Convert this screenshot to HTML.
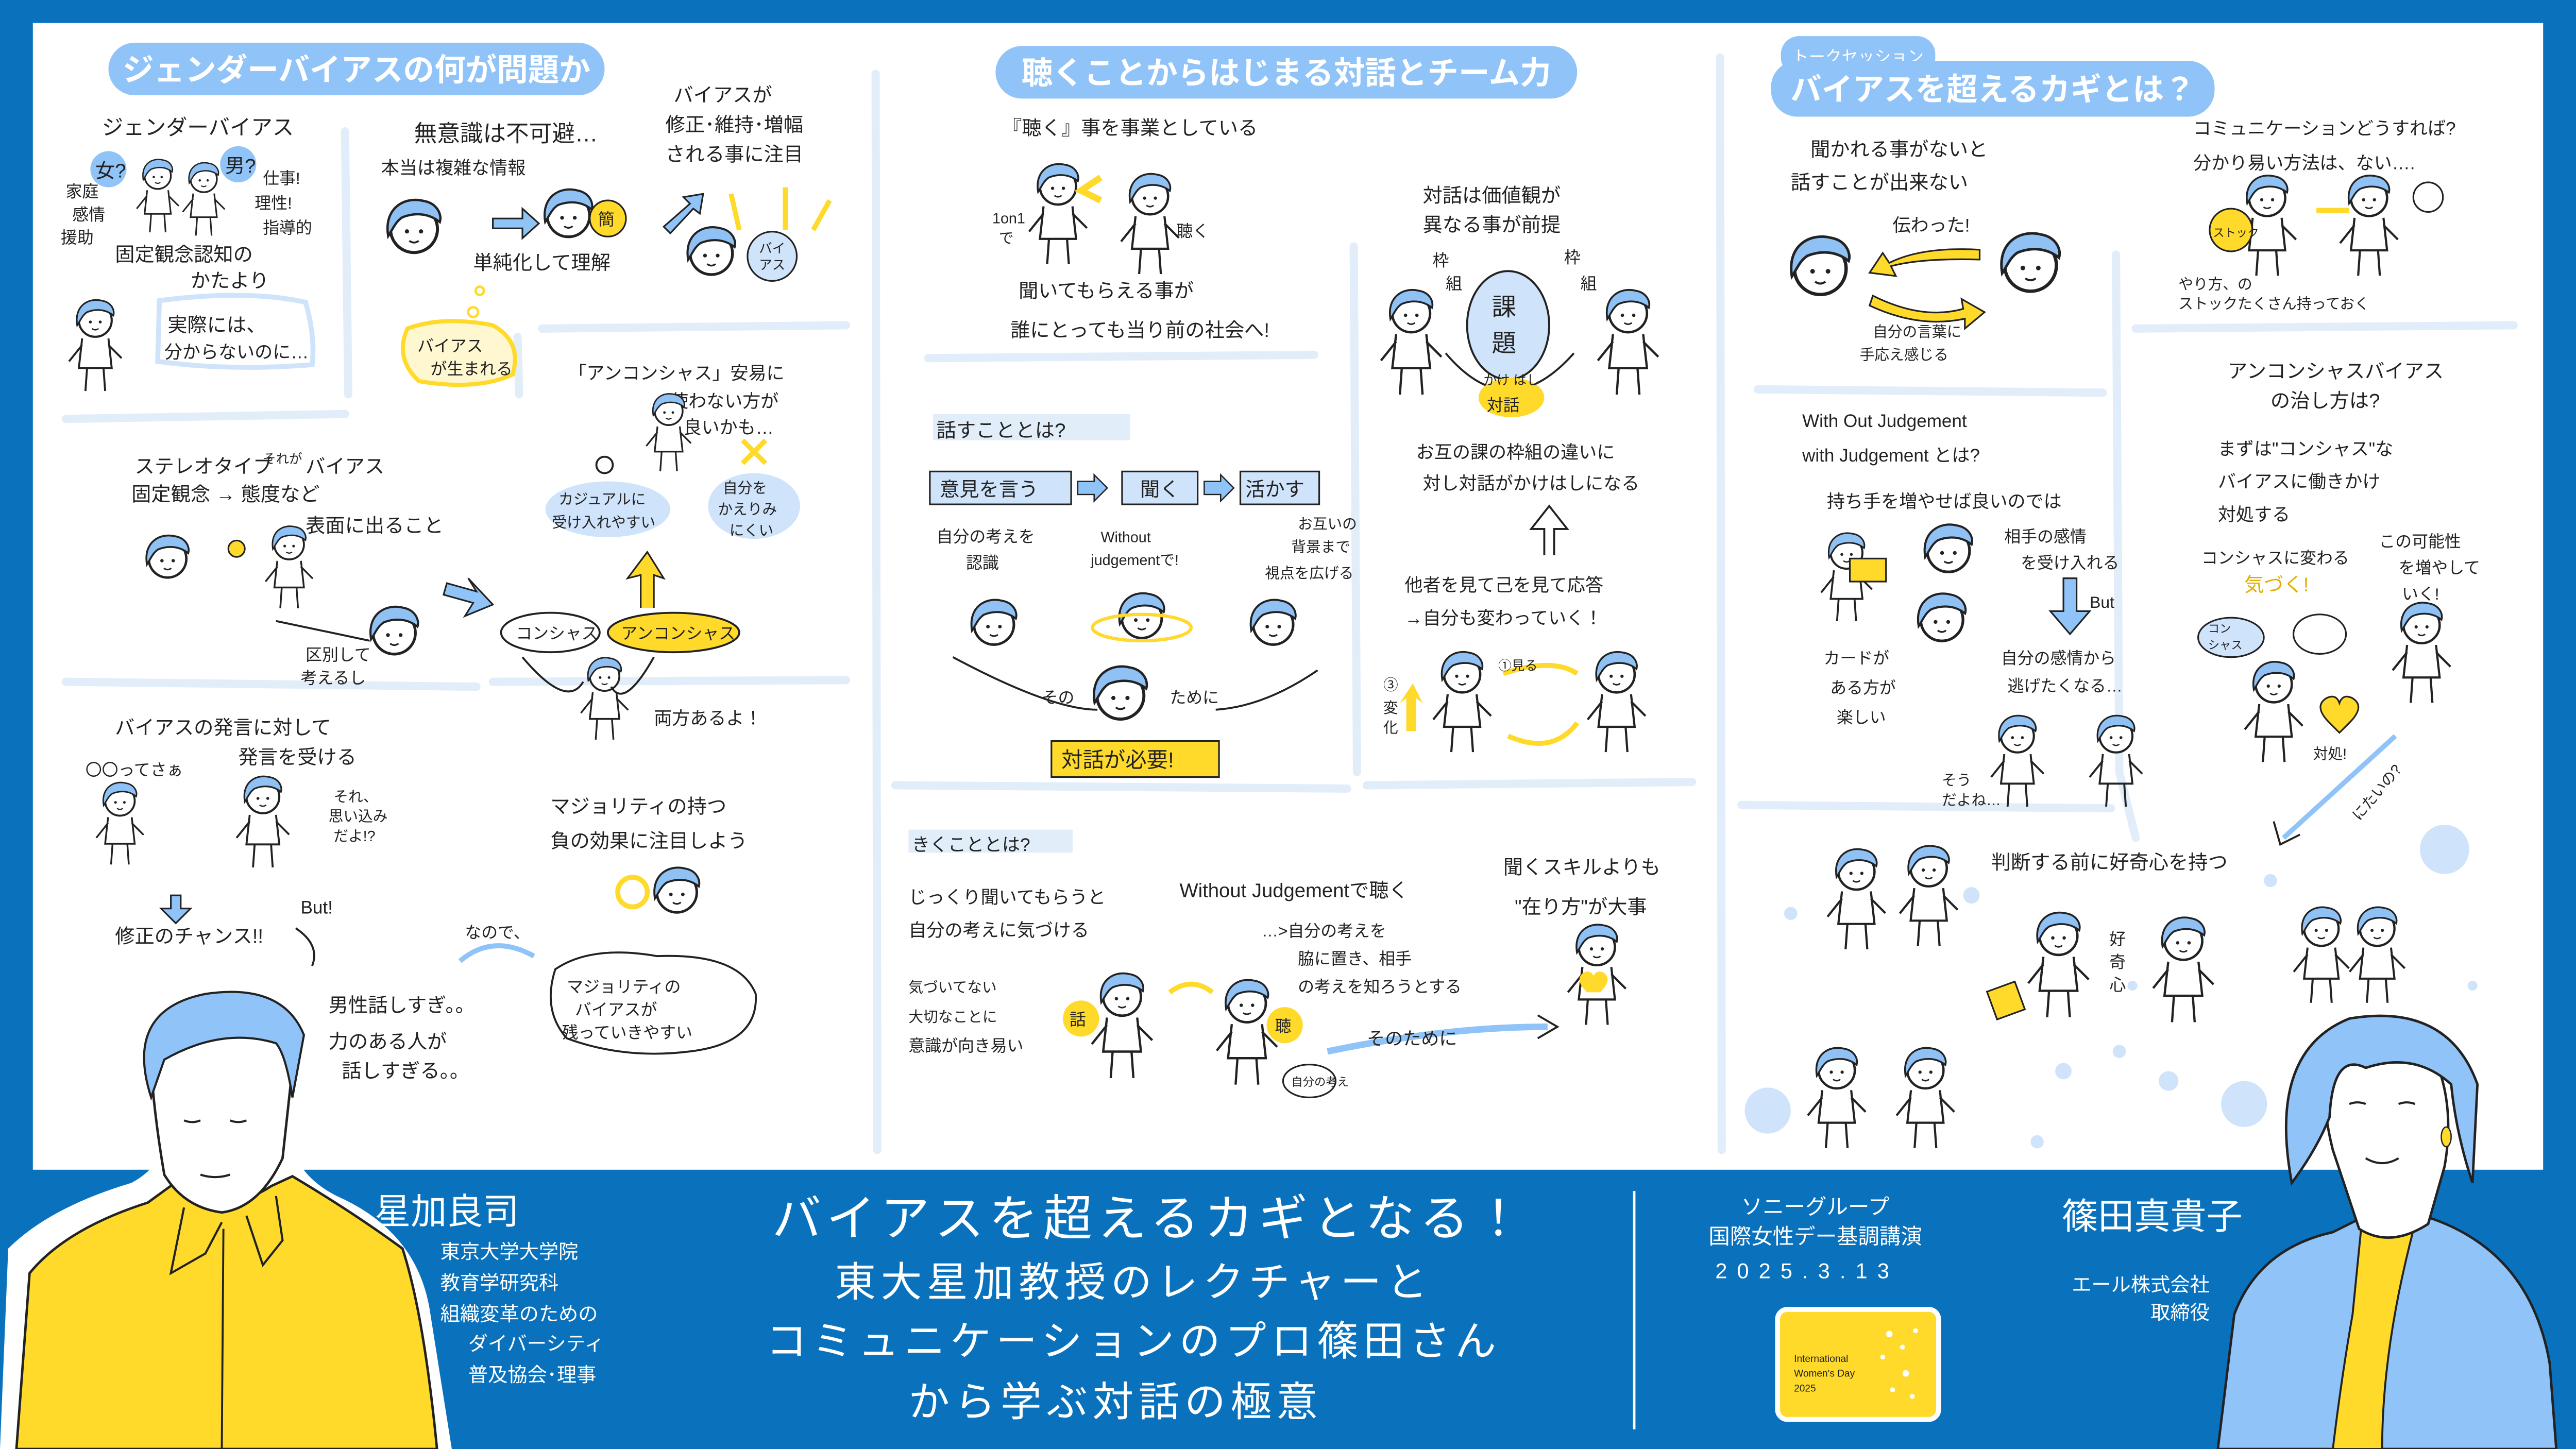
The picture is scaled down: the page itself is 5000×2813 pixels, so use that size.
<!DOCTYPE html>
<html><head><meta charset="utf-8">
<style>
html,body{margin:0;padding:0;background:#0a72bd;}
svg{display:block;}
text{font-family:"Liberation Sans","Noto Sans CJK JP",sans-serif;fill:#222;}
.w{fill:#fff;}
</style></head>
<body>
<svg width="5000" height="2813" viewBox="0 0 1568 882" preserveAspectRatio="none" xmlns="http://www.w3.org/2000/svg">
<defs>
<symbol id="h" viewBox="-14 -14 28 28">
<circle cx="0" cy="1" r="10" fill="#fff" stroke="#222" stroke-width="1.3"/>
<path d="M-11,4 C-13,-8 -4,-13 4,-11 C10,-10 12,-5 11,-2 C6,-6 0,-6 -5,-4 C-8,-2 -9,1 -11,4Z" fill="#8fc1f5" stroke="#222" stroke-width="1"/>
<circle cx="-3" cy="2" r="0.9" fill="#222"/><circle cx="3" cy="2" r="0.9" fill="#222"/>
<path d="M-2,6 Q0,7.5 2,6" fill="none" stroke="#222" stroke-width="0.8"/>
</symbol>
<symbol id="p" viewBox="-20 -14 40 60">
<use href="#h" x="-14" y="-14" width="28" height="28"/>
<path d="M-8,12 L-10,30 L10,30 L8,12 M-5,30 L-6,44 M5,30 L6,44 M-8,16 L-16,26 M8,16 L16,24" fill="none" stroke="#222" stroke-width="1.2"/>
</symbol>
</defs>

<rect x="0" y="0" width="1568" height="882" fill="#0a72bd"/>
<rect x="20" y="14" width="1528" height="698" fill="#fff"/>

<g stroke="#e2edfa" stroke-width="5" stroke-linecap="round" fill="none">
<path d="M210,80 L212,240"/>
<path d="M533,45 L534,700"/>
<path d="M1047,35 L1048,700"/>
<path d="M824,150 L826,470"/>
<path d="M1288,155 L1290,470"/>
<path d="M330,200 L515,198"/>
<path d="M315,205 L316,240"/>
<path d="M40,255 L210,252"/>
<path d="M40,415 L290,418"/>
<path d="M300,415 L515,414"/>
<path d="M565,218 L800,216"/>
<path d="M545,478 L820,480"/>
<path d="M832,478 L1030,476"/>
<path d="M1070,237 L1280,239"/>
<path d="M1300,200 L1530,198"/>
<path d="M1290,470 L1300,510"/>
<path d="M1060,490 L1285,492"/>
</g>

<rect x="66" y="26" width="302" height="32" rx="16" fill="#90c3f7"/>
<text x="217" y="49" font-size="19" class="w" text-anchor="middle" font-weight="bold">ジェンダーバイアスの何が問題か</text>
<rect x="606" y="28" width="354" height="32" rx="16" fill="#90c3f7"/>
<text x="783" y="51" font-size="19" class="w" text-anchor="middle" font-weight="bold">聴くことからはじまる対話とチーム力</text>
<rect x="1084" y="22" width="94" height="24" rx="11" fill="#90c3f7"/>
<text x="1131" y="38" font-size="10" class="w" text-anchor="middle">トークセッション</text>
<rect x="1078" y="37" width="270" height="34" rx="16" fill="#90c3f7"/>
<text x="1213" y="61" font-size="19" class="w" text-anchor="middle" font-weight="bold">バイアスを超えるカギとは？</text>

<g font-size="12">
<text x="62" y="82" font-size="13">ジェンダーバイアス</text>
<circle cx="66" cy="103" r="11" fill="#90c3f7"/><text x="58" y="108">女?</text>
<circle cx="145" cy="100" r="11" fill="#90c3f7"/><text x="137" y="105">男?</text>
<text x="40" y="120" font-size="10">家庭</text><text x="44" y="134" font-size="10">感情</text><text x="37" y="148" font-size="10">援助</text>
<text x="160" y="112" font-size="10">仕事!</text><text x="155" y="127" font-size="10">理性!</text><text x="160" y="142" font-size="10">指導的</text>
<use href="#p" x="80" y="95" width="32" height="48"/>
<use href="#p" x="108" y="97" width="32" height="48"/>
<text x="70" y="159">固定観念認知の</text>
<text x="116" y="175">かたより</text>
<use href="#p" x="38" y="180" width="40" height="60"/>
<path d="M97,183 Q150,176 186,184 Q192,205 190,222 Q140,226 96,220Z" fill="none" stroke="#cfe3fb" stroke-width="3"/>
<text x="102" y="202">実際には、</text>
<text x="100" y="218" font-size="11">分からないのに…</text>

<text x="252" y="86" font-size="14">無意識は不可避…</text>
<text x="232" y="106" font-size="11">本当は複雑な情報</text>
<use href="#h" x="232" y="118" width="40" height="40"/>
<path d="M300,133 L318,133 L318,127 L328,136 L318,145 L318,139 L300,139Z" fill="#90c3f7" stroke="#222" stroke-width="1"/>
<use href="#h" x="328" y="112" width="36" height="36"/>
<circle cx="370" cy="133" r="11" fill="#ffda2a" stroke="#222" stroke-width="1"/><text x="364" y="137" font-size="10">簡</text>
<text x="288" y="164" font-size="12">単純化して理解</text>
<text x="410" y="62" font-size="12">バイアスが</text>
<text x="405" y="80" font-size="12">修正･維持･増幅</text>
<text x="405" y="98" font-size="12">される事に注目</text>
<path d="M404,138 L420,124 L416,120 L428,118 L426,130 L422,127 L408,142Z" fill="#90c3f7" stroke="#222" stroke-width="1"/>
<g stroke="#ffda2a" stroke-width="3"><path d="M450,140 L445,118"/><path d="M478,140 L478,114"/><path d="M495,140 L505,122"/></g>
<use href="#h" x="415" y="135" width="36" height="36"/>
<circle cx="470" cy="156" r="15" fill="#cfe3fb" stroke="#222" stroke-width="1"/>
<text x="462" y="154" font-size="8">バイ</text><text x="462" y="164" font-size="8">アス</text>
<circle cx="292" cy="177" r="2.5" fill="none" stroke="#ffda2a" stroke-width="1.5"/>
<circle cx="288" cy="190" r="3" fill="none" stroke="#ffda2a" stroke-width="1.5"/>
<circle cx="282" cy="205" r="3" fill="none" stroke="#ffda2a" stroke-width="1.5"/>
<path d="M248,200 Q270,192 300,198 Q318,208 312,228 Q290,238 255,232 Q240,218 248,200Z" fill="#fff7cf" stroke="#ffda2a" stroke-width="2.5"/>
<text x="254" y="214" font-size="10">バイアス</text>
<text x="262" y="228" font-size="10">が生まれる</text>

<text x="346" y="231" font-size="11">「アンコンシャス」安易に</text>
<text x="408" y="248" font-size="11">使わない方が</text>
<text x="416" y="264" font-size="11">良いかも…</text>
<use href="#p" x="390" y="237" width="34" height="52"/>
<circle cx="368" cy="283" r="5" fill="none" stroke="#222" stroke-width="1.2"/>
<path d="M452,268 L466,282 M466,268 L452,282" stroke="#ffda2a" stroke-width="3"/>
<ellipse cx="459" cy="308" rx="28" ry="20" fill="#cfe3fb"/>
<text x="440" y="300" font-size="9">自分を</text><text x="437" y="313" font-size="9">かえりみ</text><text x="444" y="326" font-size="9">にくい</text>
<ellipse cx="370" cy="310" rx="38" ry="17" fill="#cfe3fb"/>
<text x="340" y="307" font-size="9">カジュアルに</text><text x="336" y="321" font-size="9">受け入れやすい</text>
<path d="M390,370 L390,350 L382,352 L394,336 L404,352 L398,350 L398,370" fill="#ffda2a" stroke="#222" stroke-width="1"/>

<text x="82" y="288" font-size="12">ステレオタイプ</text>
<text x="160" y="282" font-size="8">それが</text>
<text x="186" y="288" font-size="12">バイアス</text>
<text x="80" y="305" font-size="12">固定観念 → 態度など</text>
<text x="186" y="324" font-size="12">表面に出ること</text>
<use href="#h" x="86" y="323" width="32" height="32"/>
<circle cx="144" cy="334" r="5" fill="#ffda2a" stroke="#222" stroke-width="1"/>
<use href="#p" x="158" y="318" width="36" height="54"/>
<use href="#h" x="222" y="366" width="36" height="36"/>
<path d="M168,378 L225,390" stroke="#222" stroke-width="1.2"/>
<text x="186" y="402" font-size="10">区別して</text>
<text x="183" y="416" font-size="10">考えるし</text>
<path d="M272,355 L290,360 L285,352 L300,368 L283,375 L288,367 L270,362Z" fill="#90c3f7" stroke="#222" stroke-width="1"/>
<ellipse cx="335" cy="385" rx="30" ry="12" fill="#fff" stroke="#222" stroke-width="1.2"/>
<text x="314" y="389" font-size="10">コンシャス</text>
<ellipse cx="410" cy="385" rx="40" ry="12" fill="#ffda2a" stroke="#222" stroke-width="1.2"/>
<text x="378" y="389" font-size="10">アンコンシャス</text>
<use href="#p" x="350" y="398" width="36" height="54"/>
<path d="M318,400 Q345,432 355,415 M398,400 Q380,432 372,418" fill="none" stroke="#222" stroke-width="1.2"/>
<text x="398" y="441" font-size="11">両方あるよ！</text>

<text x="70" y="447" font-size="12">バイアスの発言に対して</text>
<text x="145" y="465" font-size="12">発言を受ける</text>
<text x="52" y="472" font-size="10">〇〇ってさぁ</text>
<use href="#p" x="55" y="474" width="36" height="54"/>
<use href="#p" x="140" y="470" width="40" height="60"/>
<text x="203" y="488" font-size="9">それ、</text><text x="200" y="500" font-size="9">思い込み</text><text x="203" y="512" font-size="9">だよ!?</text>
<path d="M104,545 L104,553 L98,553 L107,562 L116,553 L110,553 L110,545Z" fill="#90c3f7" stroke="#222" stroke-width="1"/>
<text x="70" y="574" font-size="12">修正のチャンス!!</text>
<text x="183" y="556" font-size="11">But!</text>
<path d="M180,565 Q195,575 190,588" fill="none" stroke="#222" stroke-width="1.2"/>
<text x="200" y="616" font-size="12">男性話しすぎ。。</text>
<text x="200" y="638" font-size="12">力のある人が</text>
<text x="208" y="656" font-size="12">話しすぎる。。</text>
<text x="283" y="571" font-size="10">なので、</text>
<path d="M280,585 Q300,568 325,582" fill="none" stroke="#90c3f7" stroke-width="3"/>
<text x="335" y="495" font-size="12">マジョリティの持つ</text>
<text x="335" y="516" font-size="12">負の効果に注目しよう</text>
<circle cx="385" cy="543" r="9" fill="#fff" stroke="#ffda2a" stroke-width="3"/>
<use href="#h" x="395" y="525" width="34" height="34"/>
<path d="M338,590 Q360,575 400,582 Q450,580 460,605 Q462,635 420,640 Q380,645 345,632 Q330,615 338,590Z" fill="#fff" stroke="#222" stroke-width="1.2"/>
<text x="345" y="604" font-size="10">マジョリティの</text>
<text x="350" y="618" font-size="10">バイアスが</text>
<text x="342" y="632" font-size="10">残っていきやすい</text>
</g>

<g font-size="12">
<text x="610" y="82" font-size="12">『聴く』事を事業としている</text>
<use href="#p" x="622" y="92" width="44" height="76"/>
<use href="#p" x="678" y="98" width="44" height="76"/>
<path d="M670,108 L658,116 L670,122" fill="none" stroke="#ffda2a" stroke-width="4"/>
<text x="604" y="136" font-size="9">1on1</text><text x="608" y="148" font-size="9">で</text>
<text x="716" y="144" font-size="10">聴く</text>
<text x="620" y="181" font-size="12">聞いてもらえる事が</text>
<text x="615" y="205" font-size="12">誰にとっても当り前の社会へ!</text>

<text x="866" y="123" font-size="12">対話は価値観が</text>
<text x="866" y="141" font-size="12">異なる事が前提</text>
<use href="#p" x="836" y="162" width="46" height="92"/>
<use href="#p" x="968" y="162" width="46" height="92"/>
<ellipse cx="918" cy="198" rx="25" ry="33" fill="#cfe3fb" stroke="#222" stroke-width="1.2"/>
<text x="908" y="192" font-size="15">課</text><text x="908" y="214" font-size="15">題</text>
<text x="872" y="162" font-size="10">枠</text><text x="880" y="176" font-size="10">組</text>
<text x="952" y="160" font-size="10">枠</text><text x="962" y="176" font-size="10">組</text>
<path d="M880,215 Q918,260 958,215" fill="none" stroke="#222" stroke-width="1.2"/>
<ellipse cx="920" cy="242" rx="20" ry="12" fill="#ffda2a"/>
<text x="903" y="234" font-size="8">かけ はし</text>
<text x="905" y="250" font-size="10">対話</text>
<text x="862" y="279" font-size="11">お互の課の枠組の違いに</text>
<text x="866" y="298" font-size="11">対し対話がかけはしになる</text>
<path d="M940,338 L940,322 L932,322 L943,308 L954,322 L946,322 L946,338" fill="#fff" stroke="#222" stroke-width="1.2"/>
<text x="855" y="360" font-size="11">他者を見て己を見て応答</text>
<text x="855" y="380" font-size="11">→自分も変わっていく！</text>
<use href="#p" x="868" y="392" width="44" height="70"/>
<use href="#p" x="962" y="392" width="44" height="70"/>
<path d="M915,410 Q945,400 960,410 M918,448 Q945,460 960,440" fill="none" stroke="#ffda2a" stroke-width="3"/>
<path d="M856,445 L856,425 L852,428 L860,416 L866,428 L862,425 L862,445" fill="#ffda2a"/>
<text x="842" y="420" font-size="9">③</text><text x="842" y="434" font-size="9">変</text><text x="842" y="446" font-size="9">化</text>
<text x="912" y="408" font-size="8">①見る</text>

<rect x="568" y="252" width="120" height="16" fill="#e2edfa"/>
<text x="570" y="266" font-size="12">話すこととは?</text>
<rect x="566" y="287" width="86" height="20" fill="#cfe3fb" stroke="#222" stroke-width="1"/>
<text x="572" y="302" font-size="12">意見を言う</text>
<path d="M656,293 L666,293 L666,289 L674,297 L666,305 L666,301 L656,301Z" fill="#90c3f7" stroke="#222" stroke-width="0.8"/>
<rect x="683" y="287" width="46" height="20" fill="#cfe3fb" stroke="#222" stroke-width="1"/>
<text x="694" y="302" font-size="12">聞く</text>
<path d="M733,293 L743,293 L743,289 L751,297 L743,305 L743,301 L733,301Z" fill="#90c3f7" stroke="#222" stroke-width="0.8"/>
<rect x="755" y="287" width="48" height="20" fill="#cfe3fb" stroke="#222" stroke-width="1"/>
<text x="758" y="302" font-size="12">活かす</text>
<text x="570" y="330" font-size="10">自分の考えを</text><text x="588" y="346" font-size="10">認識</text>
<text x="670" y="330" font-size="9">Without</text><text x="664" y="344" font-size="9">judgementで!</text>
<text x="790" y="322" font-size="9">お互いの</text><text x="786" y="336" font-size="9">背景まで</text><text x="770" y="352" font-size="9">視点を広げる</text>
<use href="#h" x="588" y="362" width="34" height="34"/>
<use href="#h" x="678" y="358" width="34" height="34"/>
<ellipse cx="695" cy="382" rx="30" ry="8" fill="none" stroke="#ffda2a" stroke-width="2"/>
<use href="#h" x="758" y="362" width="34" height="34"/>
<use href="#h" x="662" y="402" width="40" height="40"/>
<path d="M580,400 Q640,432 668,432 M740,432 Q770,430 802,408" fill="none" stroke="#222" stroke-width="1.2"/>
<text x="634" y="428" font-size="10">その</text><text x="712" y="428" font-size="10">ために</text>
<rect x="640" y="451" width="102" height="22" fill="#ffda2a" stroke="#222" stroke-width="1"/>
<text x="646" y="467" font-size="13">対話が必要!</text>

<rect x="553" y="505" width="100" height="14" fill="#e2edfa"/>
<text x="555" y="518" font-size="11">きくこととは?</text>
<text x="553" y="550" font-size="11">じっくり聞いてもらうと</text>
<text x="553" y="570" font-size="11">自分の考えに気づける</text>
<text x="553" y="604" font-size="9">気づいてない</text>
<text x="553" y="622" font-size="9">大切なことに</text>
<text x="553" y="640" font-size="10">意識が向き易い</text>
<text x="718" y="546" font-size="12">Without Judgementで聴く</text>
<text x="768" y="570" font-size="10">…>自分の考えを</text>
<text x="790" y="587" font-size="10">脇に置き、相手</text>
<text x="790" y="604" font-size="10">の考えを知ろうとする</text>
<use href="#p" x="660" y="586" width="46" height="76"/>
<use href="#p" x="736" y="590" width="46" height="76"/>
<circle cx="658" cy="620" r="11" fill="#ffda2a"/><text x="651" y="624" font-size="10">話</text>
<circle cx="782" cy="624" r="11" fill="#ffda2a"/><text x="776" y="628" font-size="10">聴</text>
<path d="M712,604 Q725,594 738,604" fill="none" stroke="#ffda2a" stroke-width="3"/>
<ellipse cx="797" cy="658" rx="16" ry="10" fill="#fff" stroke="#222" stroke-width="1"/>
<text x="786" y="661" font-size="7">自分の考え</text>
<path d="M808,640 Q880,625 942,625" fill="none" stroke="#90c3f7" stroke-width="4"/>
<path d="M936,618 L948,625 L936,632" fill="none" stroke="#222" stroke-width="1.2"/>
<text x="832" y="636" font-size="11">そのために</text>
<text x="915" y="532" font-size="12">聞くスキルよりも</text>
<text x="922" y="556" font-size="12">"在り方"が大事</text>
<use href="#p" x="950" y="560" width="44" height="66"/>
<path d="M966,604 q-8,-8 -2,-12 q4,-2 6,2 q2,-4 6,-2 q6,4 -2,12Z" fill="#ffda2a"/>
</g>

<g font-size="12">
<text x="1102" y="95" font-size="12">聞かれる事がないと</text>
<text x="1090" y="115" font-size="12">話すことが出来ない</text>
<text x="1152" y="141" font-size="11">伝わった!</text>
<use href="#h" x="1086" y="140" width="44" height="44"/>
<use href="#h" x="1214" y="138" width="44" height="44"/>
<path d="M1205,152 Q1170,150 1150,160 L1146,154 L1138,166 L1154,168 L1151,162 Q1170,157 1205,158Z" fill="#ffda2a" stroke="#222" stroke-width="1"/>
<path d="M1140,180 Q1170,195 1195,188 L1194,182 L1208,190 L1196,200 L1196,194 Q1168,200 1138,186Z" fill="#ffda2a" stroke="#222" stroke-width="1"/>
<text x="1140" y="205" font-size="9">自分の言葉に</text>
<text x="1132" y="219" font-size="9">手応え感じる</text>

<text x="1335" y="82" font-size="11">コミュニケーションどうすれば?</text>
<text x="1335" y="103" font-size="11">分かり易い方法は、ない….</text>
<use href="#p" x="1358" y="104" width="44" height="66"/>
<use href="#p" x="1420" y="104" width="44" height="66"/>
<circle cx="1358" cy="140" r="13" fill="#ffda2a" stroke="#222" stroke-width="1"/>
<text x="1347" y="144" font-size="7">ストック</text>
<path d="M1430,128 L1410,128" stroke="#ffda2a" stroke-width="3"/>
<circle cx="1478" cy="120" r="9" fill="#fff" stroke="#222" stroke-width="1"/>
<text x="1326" y="176" font-size="9">やり方、の</text>
<text x="1326" y="188" font-size="9">ストックたくさん持っておく</text>

<text x="1097" y="260" font-size="11">With Out Judgement</text>
<text x="1097" y="281" font-size="11">with Judgement とは?</text>
<text x="1112" y="309" font-size="11">持ち手を増やせば良いのでは</text>
<use href="#p" x="1104" y="322" width="40" height="58"/>
<rect x="1126" y="340" width="22" height="14" fill="#ffda2a" stroke="#222" stroke-width="1"/>
<use href="#h" x="1168" y="316" width="36" height="36"/>
<use href="#h" x="1164" y="358" width="36" height="36"/>
<text x="1220" y="330" font-size="10">相手の感情</text>
<text x="1230" y="346" font-size="10">を受け入れる</text>
<path d="M1256,352 L1256,372 L1248,372 L1260,386 L1272,372 L1264,372 L1264,352Z" fill="#90c3f7" stroke="#222" stroke-width="1"/>
<text x="1272" y="370" font-size="10">But</text>
<text x="1218" y="404" font-size="10">自分の感情から</text>
<text x="1222" y="421" font-size="10">逃げたくなる…</text>
<text x="1110" y="404" font-size="10">カードが</text>
<text x="1114" y="422" font-size="10">ある方が</text>
<text x="1118" y="440" font-size="10">楽しい</text>
<use href="#p" x="1208" y="432" width="40" height="62"/>
<use href="#p" x="1268" y="432" width="40" height="62"/>
<text x="1182" y="478" font-size="9">そう</text><text x="1182" y="490" font-size="9">だよね…</text>

<text x="1356" y="230" font-size="12">アンコンシャスバイアス</text>
<text x="1382" y="248" font-size="12">の治し方は?</text>
<text x="1350" y="277" font-size="11">まずは"コンシャス"な</text>
<text x="1350" y="297" font-size="11">バイアスに働きかけ</text>
<text x="1350" y="317" font-size="11">対処する</text>
<text x="1340" y="343" font-size="10">コンシャスに変わる</text>
<text x="1448" y="333" font-size="10">この可能性</text>
<text x="1460" y="349" font-size="10">を増やして</text>
<text x="1462" y="365" font-size="10">いく!</text>
<text x="1366" y="360" font-size="12" style="fill:#e0b000">気づく!</text>
<ellipse cx="1358" cy="388" rx="20" ry="12" fill="#cfe3fb" stroke="#222" stroke-width="1"/>
<text x="1344" y="385" font-size="7">コン</text><text x="1344" y="395" font-size="7">シャス</text>
<ellipse cx="1412" cy="386" rx="16" ry="12" fill="#fff" stroke="#222" stroke-width="1"/>
<use href="#p" x="1362" y="398" width="44" height="70"/>
<use href="#p" x="1452" y="364" width="44" height="66"/>
<path d="M1418,440 q-10,-10 -2,-15 q6,-3 8,3 q2,-6 8,-3 q8,5 -2,15 l-6,6Z" fill="#ffda2a" stroke="#222" stroke-width="1"/>
<text x="1408" y="462" font-size="9">対処!</text>
<path d="M1458,448 L1390,510" stroke="#90c3f7" stroke-width="3"/>
<path d="M1384,500 L1388,514 L1400,508" fill="none" stroke="#222" stroke-width="1.2"/>
<text x="1436" y="500" font-size="9" transform="rotate(-50 1436 500)">にたいの?</text>

<text x="1212" y="529" font-size="12">判断する前に好奇心を持つ</text>
<use href="#p" x="1108" y="510" width="44" height="74"/>
<use href="#p" x="1152" y="508" width="44" height="74"/>
<use href="#p" x="1230" y="545" width="46" height="84"/>
<use href="#p" x="1306" y="548" width="46" height="84"/>
<use href="#p" x="1392" y="548" width="42" height="66"/>
<use href="#p" x="1426" y="548" width="42" height="66"/>
<use href="#p" x="1096" y="630" width="44" height="76"/>
<use href="#p" x="1150" y="630" width="44" height="76"/>
<rect x="1212" y="600" width="18" height="18" fill="#ffda2a" stroke="#222" stroke-width="1" transform="rotate(-20 1221 609)"/>
<text x="1284" y="575" font-size="10">好</text><text x="1284" y="589" font-size="10">奇</text><text x="1284" y="603" font-size="10">心</text>
<g fill="#cfe3fb">
<circle cx="1488" cy="517" r="15"/><circle cx="1366" cy="672" r="14"/><circle cx="1076" cy="676" r="14"/>
<circle cx="1200" cy="545" r="5"/><circle cx="1256" cy="652" r="5"/><circle cx="1290" cy="640" r="4"/>
<circle cx="1320" cy="658" r="6"/><circle cx="1382" cy="536" r="4"/><circle cx="1090" cy="556" r="4"/>
<circle cx="1240" cy="695" r="4"/><circle cx="1298" cy="600" r="3"/><circle cx="1505" cy="600" r="3"/>
</g>
</g>

<!-- man -->
<path d="M0,882 L5,760 Q30,735 80,720 Q95,712 98,700 L92,650 Q85,605 135,605 Q185,605 185,650 L178,700 Q185,718 205,728 Q255,750 262,800 L275,882Z" fill="#fff"/>
<path d="M10,882 L18,775 Q40,748 90,732 L112,716 Q135,742 165,722 L178,716 Q215,738 245,760 Q258,800 266,882Z" fill="#ffda2a" stroke="#222" stroke-width="1.5"/>
<path d="M100,715 Q94,680 92,650 Q90,612 135,610 Q178,612 178,650 L172,705 Q158,735 135,738 Q112,735 100,715Z" fill="#fff" stroke="#222" stroke-width="1.5"/>
<path d="M92,668 Q75,615 125,605 Q172,598 185,630 L178,668 Q174,642 168,635 Q135,625 100,645Z" fill="#90c3f7" stroke="#222" stroke-width="1.3"/>
<path d="M112,682 q5,2 10,0 M140,682 q5,2 10,0 M122,715 q9,3 18,0" fill="none" stroke="#222" stroke-width="1.3"/>
<path d="M112,735 L104,775 L125,763 L135,744 M150,740 L160,770 L172,755 L168,728" fill="#ffda2a" stroke="#222" stroke-width="1.3"/>
<path d="M136,748 L135,882" stroke="#222" stroke-width="1.2"/>

<text x="228" y="745" font-size="22" class="w">星加良司</text>
<g font-size="12">
<text x="268" y="766" class="w">東京大学大学院</text>
<text x="268" y="785" class="w">教育学研究科</text>
<text x="268" y="804" class="w">組織変革のための</text>
<text x="285" y="822" class="w">ダイバーシティ</text>
<text x="285" y="841" class="w">普及協会･理事</text>
</g>

<g text-anchor="middle">
<text x="700" y="752" font-size="30" class="w" letter-spacing="3">バイアスを超えるカギとなる！</text>
<text x="690" y="789" font-size="25" class="w" letter-spacing="3">東大星加教授のレクチャーと</text>
<text x="690" y="825" font-size="25" class="w" letter-spacing="3">コミュニケーションのプロ篠田さん</text>
<text x="679" y="862" font-size="25" class="w" letter-spacing="3">から学ぶ対話の極意</text>
</g>
<rect x="994" y="725" width="1.5" height="145" fill="#fff"/>
<g text-anchor="middle" font-size="13">
<text x="1105" y="739" class="w">ソニーグループ</text>
<text x="1105" y="757" class="w">国際女性デー基調講演</text>
<text x="1100" y="778" class="w" letter-spacing="6">2025.3.13</text>
</g>
<rect x="1082" y="797" width="98" height="67" rx="6" fill="#ffda2a" stroke="#fff" stroke-width="3"/>
<text x="1092" y="829" font-size="6">International</text>
<text x="1092" y="838" font-size="6">Women's Day</text>
<text x="1092" y="847" font-size="6">2025</text>
<g fill="#fff"><circle cx="1150" cy="812" r="2"/><circle cx="1158" cy="820" r="1.5"/><circle cx="1146" cy="826" r="1.5"/><circle cx="1160" cy="836" r="2"/><circle cx="1152" cy="846" r="1.5"/><circle cx="1164" cy="850" r="1.5"/><circle cx="1166" cy="810" r="1.5"/></g>

<text x="1255" y="748" font-size="22" class="w">篠田真貴子</text>
<text x="1345" y="786" font-size="12" class="w" text-anchor="end">エール株式会社</text>
<text x="1345" y="803" font-size="12" class="w" text-anchor="end">取締役</text>

<!-- woman -->
<path d="M1350,882 L1360,800 Q1375,760 1420,750 L1440,740 L1475,740 Q1540,760 1552,830 L1556,882Z" fill="#90c3f7" stroke="#222" stroke-width="1.5"/>
<path d="M1438,740 L1432,800 Q1425,840 1420,882 L1450,882 Q1450,820 1470,745Z" fill="#ffda2a" stroke="#222" stroke-width="1.2"/>
<path d="M1420,700 Q1410,660 1420,640 Q1450,625 1480,640 Q1495,670 1488,710 L1478,745 Q1455,760 1436,748Z" fill="#fff" stroke="#222" stroke-width="1.5"/>
<path d="M1395,720 Q1380,640 1430,620 Q1490,610 1508,660 L1505,720 Q1495,690 1492,660 Q1470,640 1440,650 Q1420,640 1418,680 Q1410,700 1395,720Z" fill="#90c3f7" stroke="#222" stroke-width="1.5"/>
<path d="M1430,672 q5,-2 10,0 M1460,672 q5,-2 10,0 M1440,705 q10,6 20,0" fill="none" stroke="#222" stroke-width="1.3"/>
<ellipse cx="1489" cy="692" rx="3" ry="6" fill="#ffda2a" stroke="#222" stroke-width="0.8"/>
</svg>
</body></html>
